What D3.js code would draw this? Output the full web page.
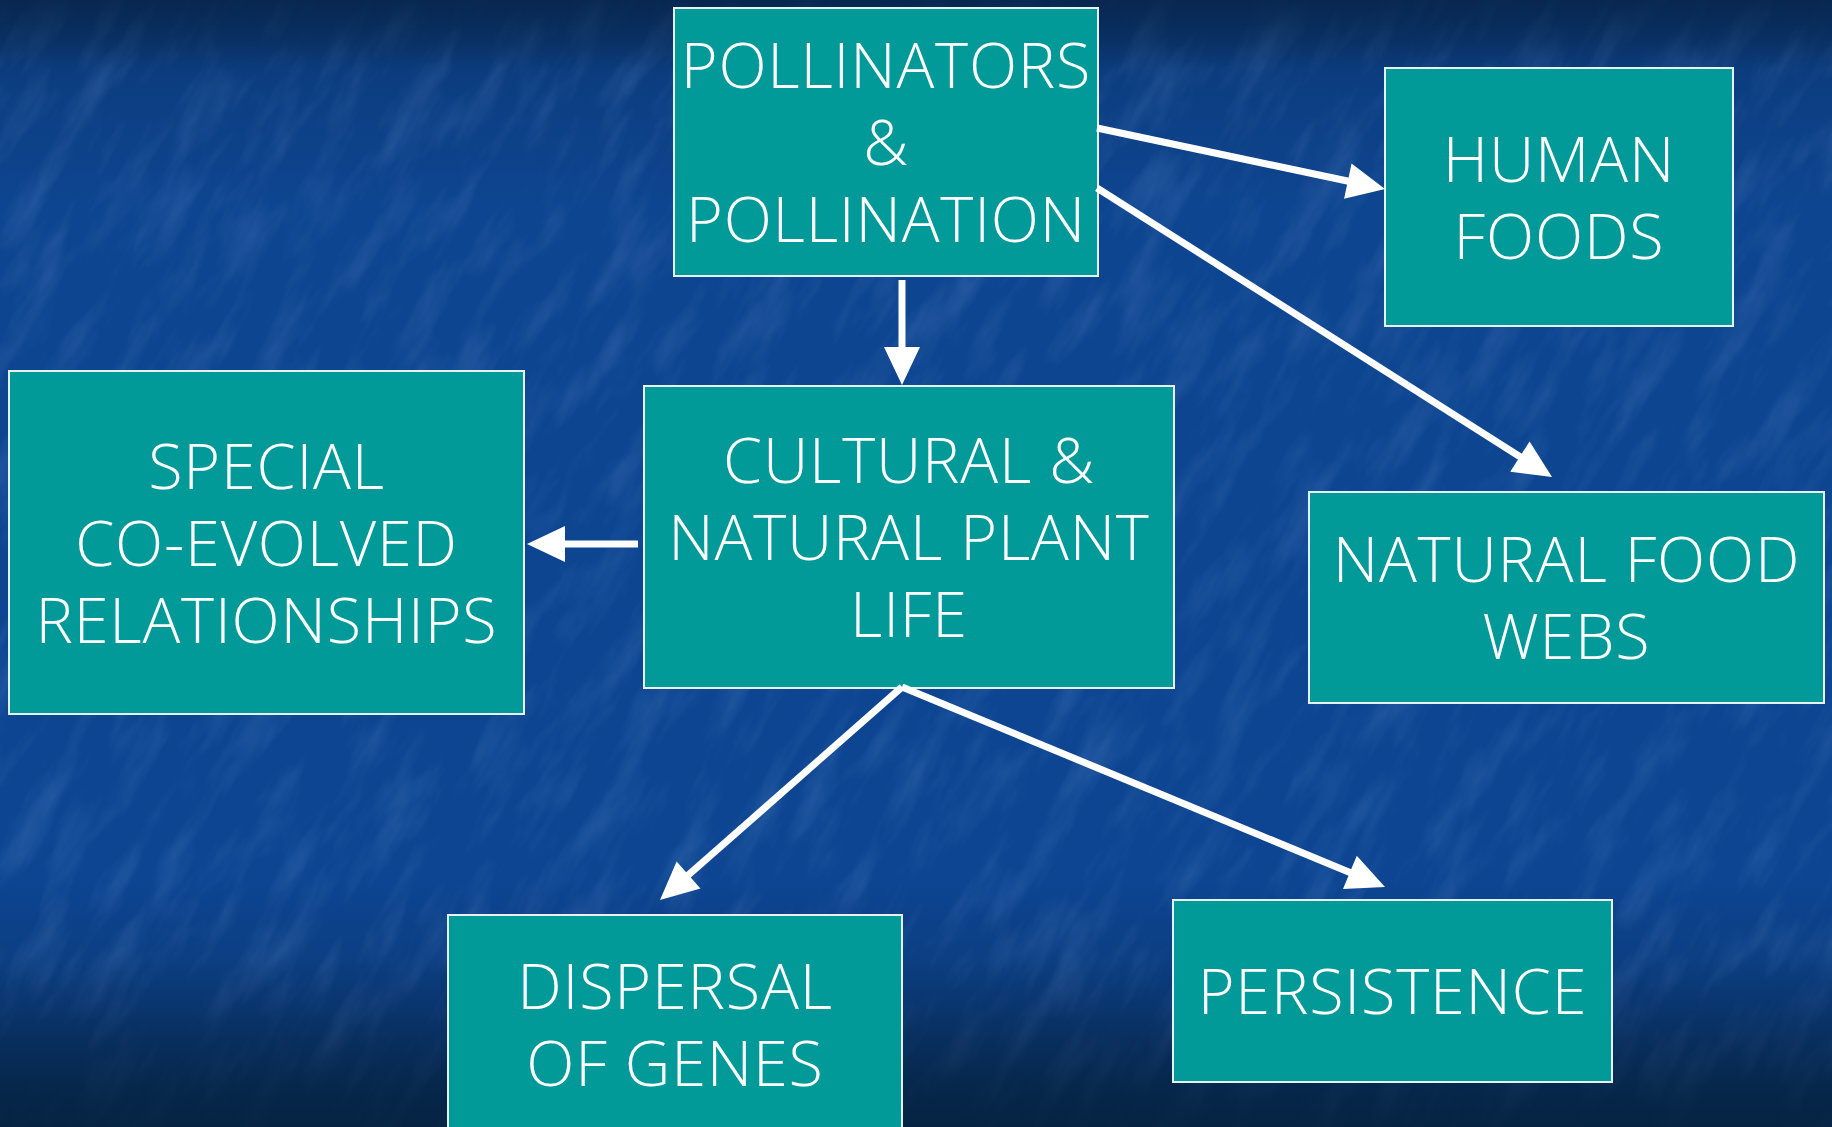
<!DOCTYPE html>
<html>
<head>
<meta charset="utf-8">
<script src="https://cdn.jsdelivr.net/npm/d3@7"></script>
<style>
  html, body { margin: 0; padding: 0; background: #0d4592; overflow: hidden; }
</style>
</head>
<body>
<div id="chart"></div>
<script>
// node labels (one entry per box, lines split with |)
const labels = ["POLLINATORS|&|POLLINATION", "HUMAN|FOODS", "CULTURAL &|NATURAL PLANT|LIFE",
  "SPECIAL|CO-EVOLVED|RELATIONSHIPS", "NATURAL FOOD|WEBS", "DISPERSAL|OF GENES", "PERSISTENCE"]
// box extents in slide units: left, top, right, bottom
const boxLeft   = [674, 1385, 644, 9, 1309, 448, 1173]
const boxTop    = [8, 68, 386, 371, 492, 915, 900]
const boxRight  = [1098, 1733, 1174, 524, 1824, 902, 1612]
const boxBottom = [276, 326, 688, 714, 703, 1133, 1082]
// arrows: start point -> tip
const arrowFrom = [[1097, 128], [1097, 188], [902, 280], [638, 544], [902, 687], [902, 687]]
const arrowTo   = [[1385, 189], [1552, 477], [902, 385], [527, 544], [660, 900], [1385, 887]]

let W = 1832, H = 1127
let scX = d3.scaleLinear().domain([0, 1832]).range([0, W])
let scY = d3.scaleLinear().domain([0, 1127]).range([0, H])

let svg = d3.select("#chart").append("svg")
    .attr("width", W).attr("height", H)

let defs = svg.append("defs")
let grad = defs.append("linearGradient").attr("id", "bg")
    .attr("x1", 0).attr("y1", 0).attr("x2", 0).attr("y2", 1)
;[["0%", "#0a2f5e"], ["7%", "#0c3d80"], ["18%", "#0e4590"], ["78%", "#0d4592"], ["90%", "#0b3a78"], ["100%", "#062a4e"]]
    .forEach(s => grad.append("stop").attr("offset", s[0]).attr("stop-color", s[1]))

// mottled paper texture
let f = defs.append("filter").attr("id", "tex").attr("x", 0).attr("y", 0).attr("width", 1).attr("height", 1)
f.append("feTurbulence").attr("type", "fractalNoise").attr("baseFrequency", "0.01 0.035")
    .attr("numOctaves", 4).attr("seed", 11).attr("result", "n")
f.append("feColorMatrix").attr("in", "n").attr("type", "matrix")
    .attr("values", "0 0 0 0 0.3  0 0 0 0 0.5  0 0 0 0 0.85  0 0 0 1.8 -0.8")

svg.append("rect").attr("width", W).attr("height", H).attr("fill", "url(#bg)")
svg.append("g").attr("transform", `rotate(-60 ${W / 2} ${H / 2})`)
    .append("rect").attr("x", -700).attr("y", -900).attr("width", W + 1400).attr("height", H + 1800)
    .attr("filter", "url(#tex)").attr("opacity", 0.18)
// dark top and bottom bands on top of texture
let vg = defs.append("linearGradient").attr("id", "vign")
    .attr("x1", 0).attr("y1", 0).attr("x2", 0).attr("y2", 1)
;[["0%", "#06254d", 0.8], ["6%", "#06254d", 0], ["85%", "#06254d", 0], ["100%", "#05223f", 0.85]]
    .forEach(s => vg.append("stop").attr("offset", s[0]).attr("stop-color", s[1]).attr("stop-opacity", s[2]))
svg.append("rect").attr("width", W).attr("height", H).attr("fill", "url(#vign)")

// boxes
let nodes = labels.map((l, i) => ({lines: l.split("|"), x0: boxLeft[i], y0: boxTop[i], x1: boxRight[i], y1: boxBottom[i]}))
let g = svg.append("g")
let box = g.selectAll("g.box").data(nodes).enter().append("g").attr("class", "box")
box.append("rect")
    .attr("x", d => scX(d.x0)).attr("y", d => scY(d.y0))
    .attr("width", d => scX(d.x1) - scX(d.x0)).attr("height", d => scY(d.y1) - scY(d.y0))
    .attr("fill", "#029a98").attr("stroke", "#e6f2f2").attr("stroke-width", 2)

let lineH = 77
box.each(function(d) {
    let cx = scX((d.x0 + d.x1) / 2), cy = scY((d.y0 + d.y1) / 2)
    let n = d.lines.length
    d3.select(this).selectAll("text").data(d.lines).enter().append("text")
        .attr("x", cx)
        .attr("y", (t, i) => cy + 23 - (n - 1) * lineH / 2 + i * lineH)
        .attr("text-anchor", "middle")
        .attr("font-family", "'Open Sans', sans-serif")
        .attr("font-size", 63)
        .attr("font-weight", 300)
        .attr("letter-spacing", 0.8)
        .attr("fill", "#ffffff")
        .text(t => t)
})

// arrows
let aw = 7, headL = 38, headW = 18
let arrows = arrowFrom.map((p, i) => ({from: p, to: arrowTo[i]}))
let ag = svg.append("g")
arrows.forEach(a => {
    let x0 = scX(a.from[0]), y0 = scY(a.from[1]), x1 = scX(a.to[0]), y1 = scY(a.to[1])
    let dx = x1 - x0, dy = y1 - y0, len = Math.hypot(dx, dy)
    let ux = dx / len, uy = dy / len
    let bx = x1 - ux * headL, by = y1 - uy * headL
    ag.append("line").attr("x1", x0).attr("y1", y0).attr("x2", bx + ux * 2).attr("y2", by + uy * 2)
        .attr("stroke", "#ffffff").attr("stroke-width", aw)
    ag.append("path")
        .attr("d", `M${x1},${y1}L${bx - uy * headW},${by + ux * headW}L${bx + uy * headW},${by - ux * headW}Z`)
        .attr("fill", "#ffffff")
})
</script>
</body>
</html>
